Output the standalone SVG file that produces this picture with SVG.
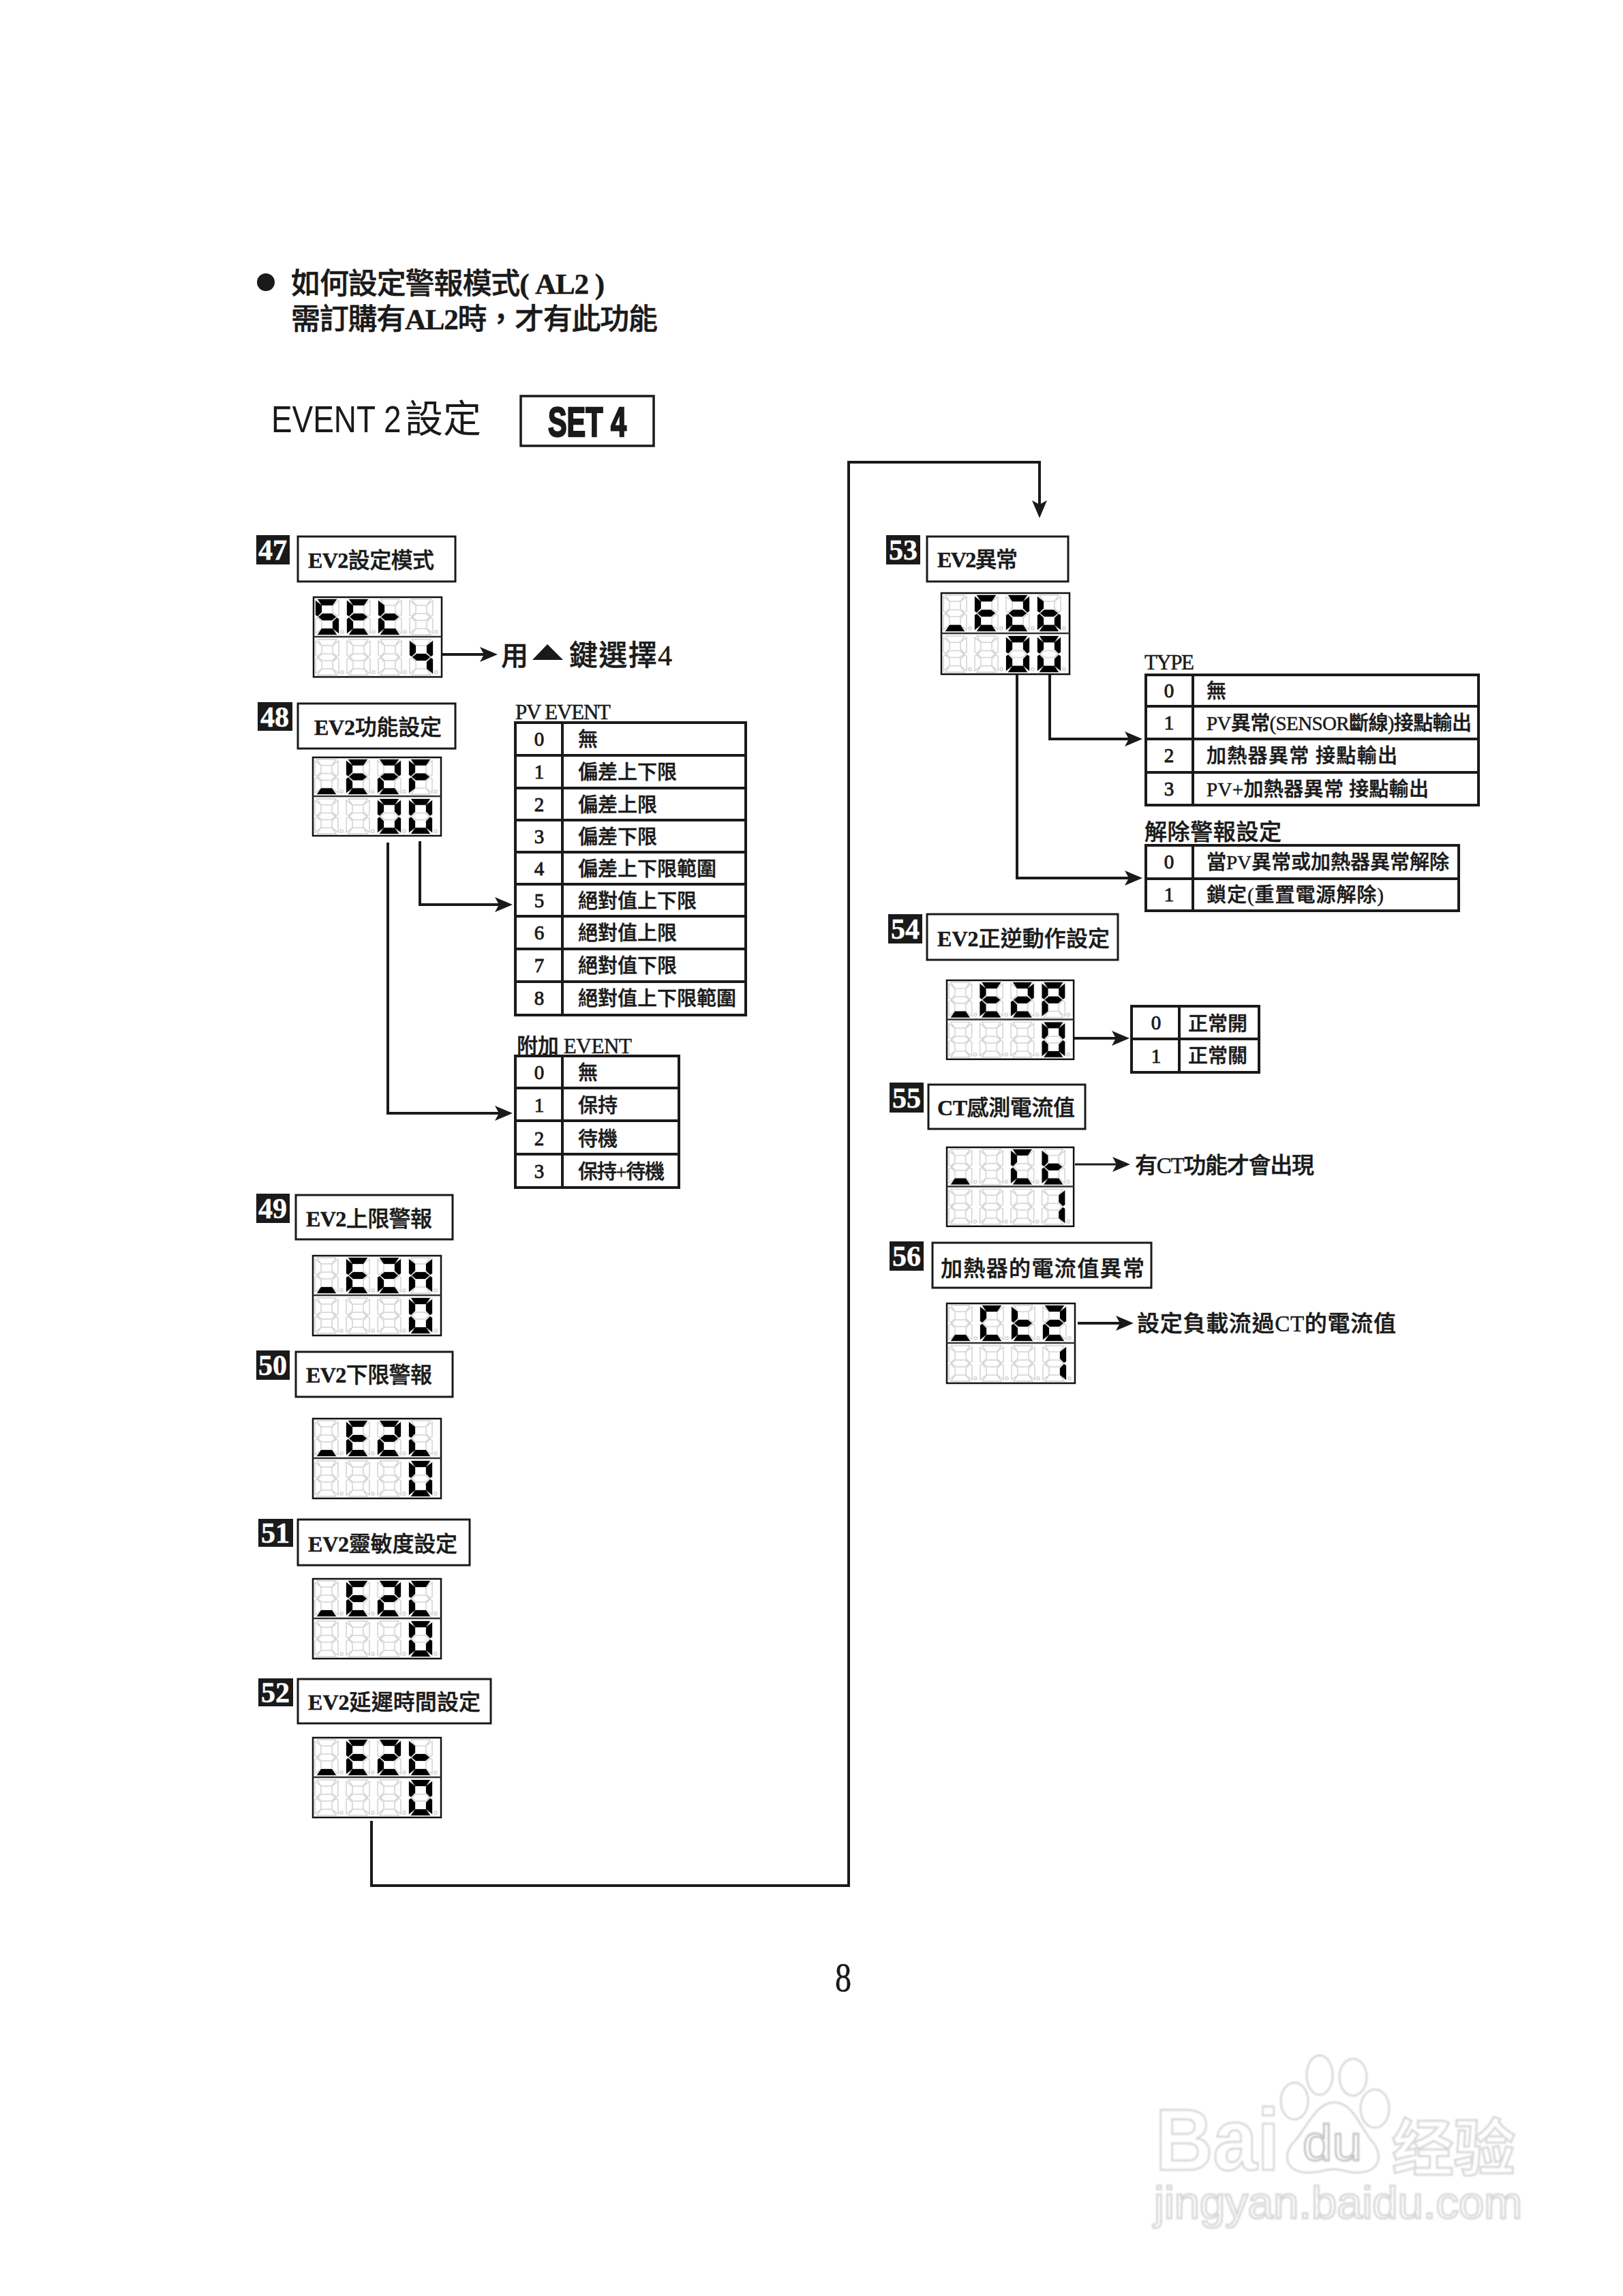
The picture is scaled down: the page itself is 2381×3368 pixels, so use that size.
<svg xmlns="http://www.w3.org/2000/svg" width="2381" height="3368" viewBox="0 0 2381 3368">
<style>
text{font-family:"Liberation Serif","Noto Sans CJK TC",serif;fill:#1a1a1a;font-weight:500;stroke:#1a1a1a;stroke-width:.5}
.L{font-weight:700}
.box{fill:#fff;stroke:#1a1a1a;stroke-width:3}
.sq{fill:#1a1a1a}
.num{fill:#fff;stroke:#fff;font-size:42px;font-weight:700;text-anchor:middle}
.lbl{font-size:32px}
.ann{font-size:33px}
.hdr{font-size:31px}
.tb{fill:none;stroke:#1a1a1a;stroke-width:4}
.cell{font-size:29px}
.idx{font-size:29px;text-anchor:middle;stroke-width:.9}
.conn{fill:none;stroke:#1a1a1a;stroke-width:4}
.disp{fill:#fff;stroke:#111;stroke-width:2.5}
.mid{stroke:#333;stroke-width:2.5}
.gs{fill:#fff;stroke:#d2d2d2;stroke-width:1.5}
.on{fill:#000;stroke:none}
.wm{fill:#fff;stroke:#d8d8d8;stroke-width:3;font-family:"Liberation Sans","Noto Sans CJK SC",sans-serif;font-weight:700}
.wmf{filter:url(#soft)}
</style>
<defs>
<filter id="soft"><feGaussianBlur stdDeviation="0.9"/></filter>
<marker id="arr" markerUnits="userSpaceOnUse" markerWidth="26" markerHeight="24" refX="20" refY="11" orient="auto"><path d="M0,0 L26,11 L0,22 L6,11 Z" fill="#1a1a1a"/></marker>
<polygon id="a" points="3,0 31,0 25,9 9,9"/>
<polygon id="d" points="3,52 31,52 25,43 9,43"/>
<polygon id="g" points="4,26 10,21 24,21 30,26 24,31 10,31"/>
<polygon id="f" points="0,2 9,9 9,19 3,25 0,23"/>
<polygon id="b" points="34,2 25,9 25,19 31,25 34,23"/>
<polygon id="e" points="0,50 9,43 9,33 3,27 0,29"/>
<polygon id="c" points="34,50 25,43 25,33 31,27 34,29"/>
<g id="blank" class="gs"><use href="#a"/><use href="#b"/><use href="#c"/><use href="#d"/><use href="#e"/><use href="#f"/><use href="#g"/><circle cx="39" cy="48" r="2.2"/></g>
<g id="dU"><use href="#blank"/><g class="on"><use href="#d"/></g></g>
<g id="d0"><use href="#blank"/><g class="on"><use href="#a"/><use href="#b"/><use href="#c"/><use href="#d"/><use href="#e"/><use href="#f"/></g></g>
<g id="d1"><use href="#blank"/><g class="on"><use href="#b"/><use href="#c"/></g></g>
<g id="d2"><use href="#blank"/><g class="on"><use href="#a"/><use href="#b"/><use href="#g"/><use href="#e"/><use href="#d"/></g></g>
<g id="d4"><use href="#blank"/><g class="on"><use href="#f"/><use href="#g"/><use href="#b"/><use href="#c"/></g></g>
<g id="dS"><use href="#blank"/><g class="on"><use href="#a"/><use href="#f"/><use href="#g"/><use href="#c"/><use href="#d"/></g></g>
<g id="dE"><use href="#blank"/><g class="on"><use href="#a"/><use href="#f"/><use href="#g"/><use href="#e"/><use href="#d"/></g></g>
<g id="dF"><use href="#blank"/><g class="on"><use href="#a"/><use href="#f"/><use href="#g"/><use href="#e"/></g></g>
<g id="dt"><use href="#blank"/><g class="on"><use href="#f"/><use href="#g"/><use href="#e"/><use href="#d"/></g></g>
<g id="db"><use href="#blank"/><g class="on"><use href="#f"/><use href="#g"/><use href="#e"/><use href="#d"/><use href="#c"/></g></g>
<g id="dP"><use href="#blank"/><g class="on"><use href="#a"/><use href="#b"/><use href="#f"/><use href="#g"/><use href="#e"/></g></g>
<g id="dH"><use href="#blank"/><g class="on"><use href="#b"/><use href="#c"/><use href="#f"/><use href="#g"/><use href="#e"/></g></g>
<g id="dL"><use href="#blank"/><g class="on"><use href="#f"/><use href="#e"/><use href="#d"/></g></g>
<g id="dC"><use href="#blank"/><g class="on"><use href="#a"/><use href="#f"/><use href="#e"/><use href="#d"/></g></g>
<g id="frame"><rect class="disp" x="0" y="0" width="188" height="117"/><line class="mid" x1="0" y1="58" x2="188" y2="58"/></g>
</defs>
<rect width="2381" height="3368" fill="#fff"/>

<g id="watermark" class="wmf">
<text class="wm" x="1695" y="3183" font-size="128" textLength="182" lengthAdjust="spacingAndGlyphs">Bai</text>
<ellipse class="wm" cx="1899" cy="3082" rx="20" ry="27"/>
<ellipse class="wm" cx="1936" cy="3044" rx="19" ry="29"/>
<ellipse class="wm" cx="1985" cy="3047" rx="20" ry="27"/>
<ellipse class="wm" cx="2017" cy="3093" rx="21" ry="28"/>
<path class="wm" d="M1957,3084 C1985,3084 1995,3120 2012,3140 C2030,3160 2026,3187 1990,3187 C1975,3187 1970,3182 1957,3182 C1945,3182 1935,3187 1920,3187 C1885,3187 1880,3160 1900,3140 C1915,3125 1930,3084 1957,3084 Z"/>
<text class="wm" x="1911" y="3169" font-size="75" textLength="87" lengthAdjust="spacingAndGlyphs" style="stroke:#c4c4c4;font-weight:400">du</text>
<text class="wm" x="2042" y="3183" font-size="90" textLength="181" lengthAdjust="spacingAndGlyphs">经验</text>
<text class="wm" x="1693" y="3254" font-size="66" textLength="540" lengthAdjust="spacingAndGlyphs" style="font-weight:400">jingyan.baidu.com</text>
</g>

<g id="title">
<circle cx="390" cy="414" r="13" fill="#1a1a1a"/>
<text x="427" y="431" font-size="43" textLength="460">如何設定警報模式<tspan class="L">( AL2 )</tspan></text>
<text x="427" y="483" font-size="43" textLength="538">需訂購有<tspan class="L">AL2</tspan>時，才有此功能</text>
<text transform="translate(398,634) scale(.82,1)" font-size="56" style="font-family:'Liberation Sans',sans-serif;font-weight:400;stroke:none">EVENT 2</text>
<text x="594" y="634" font-size="56" style="font-family:'Noto Sans CJK TC',sans-serif;font-weight:400;stroke:none">設定</text>
<rect x="764" y="581" width="195" height="73" fill="#fff" stroke="#1a1a1a" stroke-width="3.5"/>
<text x="804" y="640" font-size="62" textLength="115" lengthAdjust="spacingAndGlyphs" style="font-family:'Liberation Sans',sans-serif;font-weight:700;stroke-width:2.5">SET 4</text>
</g>

<g id="connectors">
<path class="conn" d="M648,960 H724" marker-end="url(#arr)"/>
<path class="conn" d="M616,1234 V1327 H746" marker-end="url(#arr)"/>
<path class="conn" d="M569,1236 V1633 H746" marker-end="url(#arr)"/>
<path class="conn" d="M545,2671 V2766 H1245 V678 H1525 V754" marker-end="url(#arr)"/>
<path class="conn" d="M1540,989 V1084 H1670" marker-end="url(#arr)"/>
<path class="conn" d="M1492,989 V1288 H1670" marker-end="url(#arr)"/>
<path class="conn" d="M1575,1523 H1651" marker-end="url(#arr)"/>
<path class="conn" d="M1577,1708 H1652" style="stroke-width:3" marker-end="url(#arr)"/>
<path class="conn" d="M1581,1941 H1657" marker-end="url(#arr)"/>
</g>

<g id="n47">
<rect class="sq" x="376" y="785" width="49" height="43"/><text class="num" x="400" y="821">47</text>
<rect class="box" x="437" y="787" width="231" height="66"/><text class="lbl" x="452" y="833" textLength="185"><tspan class="L">EV2</tspan>設定模式</text>
<g transform="translate(460,876)"><use href="#frame"/><g transform="translate(3,3)"><use href="#dS"/><use href="#dE" x="46"/><use href="#dt" x="92"/><use href="#blank" x="138"/><use href="#blank" y="59"/><use href="#blank" x="46" y="59"/><use href="#blank" x="92" y="59"/><use href="#d4" x="138" y="59"/></g></g>
<text class="ann" x="735" y="976" style="font-size:40px">用</text>
<polygon points="781,968 826,968 803,945" fill="#1a1a1a"/>
<text class="ann" x="835" y="976" textLength="151" style="font-size:42px">鍵選擇4</text>
</g>

<g id="n48">
<rect class="sq" x="378" y="1030" width="51" height="42"/><text class="num" x="403" y="1066">48</text>
<rect class="box" x="437" y="1032" width="231" height="66"/><text class="lbl" x="461" y="1078" textLength="187"><tspan class="L">EV2</tspan>功能設定</text>
<g transform="translate(459,1111) scale(1,.983)"><use href="#frame"/><g transform="translate(3,3)"><use href="#dU"/><use href="#dE" x="46"/><use href="#d2" x="92"/><use href="#dF" x="138"/><use href="#blank" y="59"/><use href="#blank" x="46" y="59"/><use href="#d0" x="92" y="59"/><use href="#d0" x="138" y="59"/></g></g>
</g>

<g id="pv-event">
<text class="hdr" x="756" y="1055" textLength="140">PV EVENT</text>
<path class="tb" d="M756,1060 H1094 V1489 H756 Z M825,1060 V1489 M756,1108 H1094 M756,1156 H1094 M756,1203 H1094 M756,1250 H1094 M756,1297 H1094 M756,1344 H1094 M756,1392 H1094 M756,1440 H1094"/>
<g>
<text class="idx" x="791" y="1094">0</text><text class="cell" x="848" y="1095">無</text>
<text class="idx" x="791" y="1142">1</text><text class="cell" x="848" y="1143">偏差上下限</text>
<text class="idx" x="791" y="1190">2</text><text class="cell" x="848" y="1191">偏差上限</text>
<text class="idx" x="791" y="1237">3</text><text class="cell" x="848" y="1238">偏差下限</text>
<text class="idx" x="791" y="1284">4</text><text class="cell" x="848" y="1285">偏差上下限範圍</text>
<text class="idx" x="791" y="1331">5</text><text class="cell" x="848" y="1332">絕對值上下限</text>
<text class="idx" x="791" y="1378">6</text><text class="cell" x="848" y="1379">絕對值上限</text>
<text class="idx" x="791" y="1426">7</text><text class="cell" x="848" y="1427">絕對值下限</text>
<text class="idx" x="791" y="1474">8</text><text class="cell" x="848" y="1475">絕對值上下限範圍</text>
</g>
</g>

<g id="add-event">
<text class="hdr" x="758" y="1545" textLength="169">附加 EVENT</text>
<path class="tb" d="M756,1549 H996 V1742 H756 Z M825,1549 V1742 M756,1596 H996 M756,1644 H996 M756,1693 H996"/>
<text class="idx" x="791" y="1583">0</text><text class="cell" x="848" y="1584">無</text>
<text class="idx" x="791" y="1631">1</text><text class="cell" x="848" y="1632">保持</text>
<text class="idx" x="791" y="1680">2</text><text class="cell" x="848" y="1681">待機</text>
<text class="idx" x="791" y="1728">3</text><text class="cell" x="848" y="1729" textLength="127">保持+待機</text>
</g>

<g id="n49">
<rect class="sq" x="376" y="1751" width="49" height="43"/><text class="num" x="400" y="1787">49</text>
<rect class="box" x="434" y="1753" width="230" height="65"/><text class="lbl" x="449" y="1799" textLength="185"><tspan class="L">EV2</tspan>上限警報</text>
<g transform="translate(459,1842)"><use href="#frame"/><g transform="translate(3,3)"><use href="#dU"/><use href="#dE" x="46"/><use href="#d2" x="92"/><use href="#dH" x="138"/><use href="#blank" y="59"/><use href="#blank" x="46" y="59"/><use href="#blank" x="92" y="59"/><use href="#d0" x="138" y="59"/></g></g>
</g>

<g id="n50">
<rect class="sq" x="376" y="1981" width="49" height="43"/><text class="num" x="400" y="2017">50</text>
<rect class="box" x="434" y="1983" width="230" height="66"/><text class="lbl" x="449" y="2028" textLength="185"><tspan class="L">EV2</tspan>下限警報</text>
<g transform="translate(459,2081)"><use href="#frame"/><g transform="translate(3,3)"><use href="#dU"/><use href="#dE" x="46"/><use href="#d2" x="92"/><use href="#dL" x="138"/><use href="#blank" y="59"/><use href="#blank" x="46" y="59"/><use href="#blank" x="92" y="59"/><use href="#d0" x="138" y="59"/></g></g>
</g>

<g id="n51">
<rect class="sq" x="379" y="2228" width="51" height="41"/><text class="num" x="404" y="2263">51</text>
<rect class="box" x="437" y="2229" width="252" height="67"/><text class="lbl" x="452" y="2276" textLength="219"><tspan class="L">EV2</tspan>靈敏度設定</text>
<g transform="translate(459,2316)"><use href="#frame"/><g transform="translate(3,3)"><use href="#dU"/><use href="#dE" x="46"/><use href="#d2" x="92"/><use href="#dC" x="138"/><use href="#blank" y="59"/><use href="#blank" x="46" y="59"/><use href="#blank" x="92" y="59"/><use href="#d0" x="138" y="59"/></g></g>
</g>

<g id="n52">
<rect class="sq" x="379" y="2462" width="51" height="41"/><text class="num" x="404" y="2497">52</text>
<rect class="box" x="437" y="2463" width="283" height="65"/><text class="lbl" x="452" y="2508" textLength="253"><tspan class="L">EV2</tspan>延遲時間設定</text>
<g transform="translate(459,2549)"><use href="#frame"/><g transform="translate(3,3)"><use href="#dU"/><use href="#dE" x="46"/><use href="#d2" x="92"/><use href="#dt" x="138"/><use href="#blank" y="59"/><use href="#blank" x="46" y="59"/><use href="#blank" x="92" y="59"/><use href="#d0" x="138" y="59"/></g></g>
</g>

<g id="n53">
<rect class="sq" x="1300" y="785" width="50" height="43"/><text class="num" x="1325" y="821">53</text>
<rect class="box" x="1360" y="787" width="207" height="66"/><text class="lbl" x="1375" y="832" textLength="118"><tspan class="L">EV2</tspan>異常</text>
<g transform="translate(1381,870) scale(1,1.017)"><use href="#frame"/><g transform="translate(3,3)"><use href="#dU"/><use href="#dE" x="46"/><use href="#d2" x="92"/><use href="#db" x="138"/><use href="#blank" y="59"/><use href="#blank" x="46" y="59"/><use href="#d0" x="92" y="59"/><use href="#d0" x="138" y="59"/></g></g>
</g>

<g id="type-table">
<text class="hdr" x="1679" y="982" textLength="73">TYPE</text>
<path class="tb" d="M1681,990 H2169 V1181 H1681 Z M1750,990 V1181 M1681,1036 H2169 M1681,1084 H2169 M1681,1133 H2169"/>
<text class="idx" x="1715" y="1023">0</text><text class="cell" x="1770" y="1024">無</text>
<text class="idx" x="1715" y="1070">1</text><text class="cell" x="1770" y="1071" textLength="389">PV異常(SENSOR斷線)接點輸出</text>
<text class="idx" x="1715" y="1118">2</text><text class="cell" x="1770" y="1119" textLength="280">加熱器異常 接點輸出</text>
<text class="idx" x="1715" y="1167">3</text><text class="cell" x="1770" y="1168" textLength="326">PV+加熱器異常 接點輸出</text>
</g>

<g id="release-table">
<text class="hdr" x="1679" y="1232" textLength="201" style="font-size:33px">解除警報設定</text>
<path class="tb" d="M1681,1240 H2140 V1336 H1681 Z M1750,1240 V1336 M1681,1289 H2140"/>
<text class="idx" x="1715" y="1274">0</text><text class="cell" x="1770" y="1275" textLength="356">當PV異常或加熱器異常解除</text>
<text class="idx" x="1715" y="1322">1</text><text class="cell" x="1770" y="1323" textLength="260">鎖定(重置電源解除)</text>
</g>

<g id="n54">
<rect class="sq" x="1303" y="1341" width="50" height="43"/><text class="num" x="1328" y="1377">54</text>
<rect class="box" x="1360" y="1341" width="280" height="67"/><text class="lbl" x="1375" y="1388" textLength="253"><tspan class="L">EV2</tspan>正逆動作設定</text>
<g transform="translate(1389,1438) scale(.99,.99)"><use href="#frame"/><g transform="translate(3,3)"><use href="#dU"/><use href="#dE" x="46"/><use href="#d2" x="92"/><use href="#dP" x="138"/><use href="#blank" y="59"/><use href="#blank" x="46" y="59"/><use href="#blank" x="92" y="59"/><use href="#d0" x="138" y="59"/></g></g>
</g>

<g id="dir-table">
<path class="tb" d="M1660,1476 H1847 V1573 H1660 Z M1730,1476 V1573 M1660,1524 H1847"/>
<text class="idx" x="1696" y="1510">0</text><text class="cell" x="1743" y="1512" textLength="87">正常開</text>
<text class="idx" x="1696" y="1559">1</text><text class="cell" x="1743" y="1559" textLength="87">正常關</text>
</g>

<g id="n55">
<rect class="sq" x="1305" y="1588" width="50" height="44"/><text class="num" x="1330" y="1625">55</text>
<rect class="box" x="1362" y="1591" width="230" height="65"/><text class="lbl" x="1375" y="1636" textLength="202"><tspan class="L">CT</tspan>感測電流值</text>
<g transform="translate(1389,1683) scale(.99,.99)"><use href="#frame"/><g transform="translate(3,3)"><use href="#dU"/><use href="#blank" x="46"/><use href="#dC" x="92"/><use href="#dt" x="138"/><use href="#blank" y="59"/><use href="#blank" x="46" y="59"/><use href="#blank" x="92" y="59"/><use href="#d1" x="138" y="59"/></g></g>
<text class="ann" x="1665" y="1721" textLength="263">有CT功能才會出現</text>
</g>

<g id="n56">
<rect class="sq" x="1305" y="1821" width="50" height="43"/><text class="num" x="1330" y="1857">56</text>
<rect class="box" x="1368" y="1823" width="321" height="66"/><text class="lbl" x="1380" y="1872" textLength="299">加熱器的電流值異常</text>
<g transform="translate(1389,1912)"><use href="#frame"/><g transform="translate(3,3)"><use href="#dU"/><use href="#dC" x="46"/><use href="#dt" x="92"/><use href="#d2" x="138"/><use href="#blank" y="59"/><use href="#blank" x="46" y="59"/><use href="#blank" x="92" y="59"/><use href="#d1" x="138" y="59"/></g></g>
<text class="ann" x="1668" y="1953" textLength="380">設定負載流過CT的電流值</text>
</g>

<text id="page" x="1225" y="2921" font-size="62" textLength="24" lengthAdjust="spacingAndGlyphs">8</text>
</svg>
